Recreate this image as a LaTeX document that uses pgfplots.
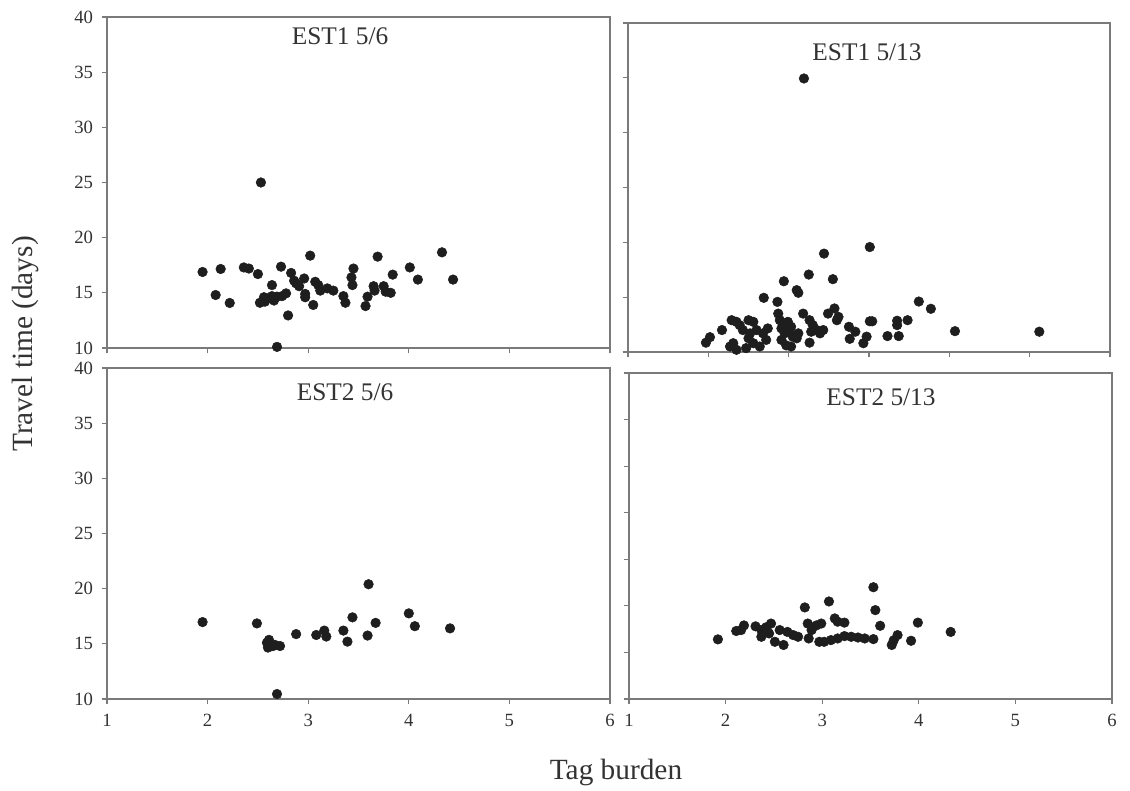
\documentclass[border=0pt]{standalone}
\usepackage{pgfplots}
\pgfplotsset{compat=1.18}
\usepackage{fontspec}
\setmainfont{Liberation Serif}
\definecolor{axgray}{HTML}{7A7A7A}
\definecolor{dotc}{HTML}{1E1E1E}
\definecolor{txt}{HTML}{333333}
\pgfplotsset{
  panel/.style={
    scale only axis,
    axis line style={axgray, line width=1.1pt},
    tick style={axgray, line width=0.9pt},
    tick align=outside,
    major tick length=4pt,
    xtick={1,2,3,4,5,6,7},
    ytick={10,15,20,25,30,35,40,45},
    ymin=10,
    every tick label/.style={font=\fontsize{14}{15}\selectfont, text=txt},
    /pgf/number format/assume math mode=true,
    clip=false,
    xticklabel style={yshift=-4pt},
    yticklabel style={xshift=-3pt},
  },
  boxpanel/.style={panel, axis lines=box, xtick pos=bottom, ytick pos=left},
  dots/.style={only marks, mark=*, mark size=3.6pt, mark options={fill=dotc, draw=dotc}},
}
\begin{document}
\begin{tikzpicture}
\useasboundingbox (0pt,0pt) rectangle (847.5pt,593.25pt);
\fill[white] (0pt,0pt) rectangle (847.5pt,593.25pt);

% Top-left: EST1 5/6
\begin{axis}[boxpanel, at={(80.25pt,332.25pt)}, anchor=south west,
  width=377.25pt, height=248.25pt, xmin=1, xmax=6, ymax=40, xticklabels={}]
\addplot[dots] coordinates {
(2.53,25.0) (3.02,18.37) (3.69,18.28) (4.33,18.67) (1.95,16.89) (2.13,17.16)
(2.36,17.3) (2.41,17.2) (2.50,16.7) (2.73,17.37) (2.83,16.8) (3.45,17.2)
(4.01,17.3) (3.84,16.65) (4.09,16.2) (4.44,16.2) (2.08,14.8) (2.22,14.08)
(2.64,15.7) (2.52,14.1) (2.57,14.2) (2.60,14.5) (2.64,14.7) (2.69,14.65)
(2.74,14.7) (2.78,14.95) (2.56,14.6) (2.66,14.3) (2.80,12.95) (2.69,10.1)
(2.88,15.86) (2.86,16.1) (2.96,16.3) (2.91,15.6) (3.07,16.0) (3.10,15.7)
(3.12,15.2) (3.19,15.4) (3.25,15.2) (2.97,14.9) (2.97,14.6) (3.05,13.9)
(3.43,16.4) (3.44,15.7) (3.35,14.7) (3.37,14.1) (3.59,14.65) (3.57,13.8)
(3.65,15.6) (3.66,15.2) (3.75,15.6) (3.77,15.1) (3.82,15.0)
};
\end{axis}

% Top-right: EST1 5/13
\begin{axis}[boxpanel, at={(471pt,329.25pt)}, anchor=south west,
  width=361.5pt, height=246.75pt, xmin=1, xmax=7, ymax=40,
  xticklabels={}, yticklabels={}]
\addplot[dots] coordinates {
(3.19,34.94) (4.01,19.57) (3.44,18.97) (3.25,17.06) (3.55,16.64) (2.94,16.45)
(3.10,15.64) (3.12,15.4) (2.69,14.94) (2.86,14.57) (4.62,14.6) (4.77,13.94)
(5.07,11.9) (6.12,11.85) (4.23,11.45) (4.37,11.45) (4.35,12.45) (4.35,12.85)
(4.48,12.9) (4.01,12.8) (4.04,12.8) (3.75,12.3) (3.83,11.85) (3.76,11.2)
(3.93,10.8) (3.97,11.4) (3.57,13.97) (3.49,13.5) (3.62,13.2) (3.60,12.9)
(3.18,13.5) (3.26,12.9) (3.30,12.45) (3.35,12.0) (3.39,11.7) (3.43,12.0)
(3.28,11.85) (3.26,10.85)
(2.87,13.5) (2.89,12.9) (2.93,12.6) (2.99,12.75) (3.03,12.3) (2.91,12.15)
(2.95,11.7) (3.01,11.85) (3.05,11.4) (2.91,11.1) (2.97,10.6) (3.03,10.5)
(3.10,11.25) (3.12,11.7)
(2.74,12.15) (2.68,11.7) (2.60,12.0)
(2.29,12.9) (2.35,12.75) (2.39,12.45) (2.50,12.9) (2.56,12.75) (2.43,12.0)
(2.52,11.7) (2.50,11.25) (2.56,10.8) (2.64,10.5) (2.31,10.8) (2.27,10.5)
(2.35,10.2) (2.47,10.35)
(2.17,12.0) (2.02,11.35) (1.97,10.85) (2.72,11.1)
};
\end{axis}

% Bottom-left: EST2 5/6
\begin{axis}[boxpanel, at={(80.25pt,69pt)}, anchor=south west,
  width=377.25pt, height=248.25pt, xmin=1, xmax=6, ymax=40]
\addplot[dots] coordinates {
(1.95,16.97) (2.49,16.85) (3.60,20.4) (4.00,17.76) (3.44,17.4) (3.67,16.9)
(4.06,16.6) (4.41,16.4) (2.88,15.88) (3.08,15.8) (3.16,16.2) (3.18,15.66)
(3.35,16.2) (3.39,15.2) (3.59,15.75) (2.59,15.1) (2.61,15.36) (2.60,14.66)
(2.65,14.8) (2.72,14.8) (2.67,14.9) (2.69,10.45)
};
\end{axis}

% Bottom-right: EST2 5/13
\begin{axis}[boxpanel, at={(471.75pt,69pt)}, anchor=south west,
  width=362.25pt, height=244.5pt, xmin=1, xmax=6, ymax=45, yticklabels={}]
\addplot[dots] coordinates {
(1.92,16.4) (3.53,22.0) (2.82,19.83) (3.07,20.47) (3.55,19.54) (3.60,17.86)
(3.99,18.2) (4.33,17.2) (3.92,16.25) (3.72,15.8) (3.74,16.3) (3.78,16.86)
(3.53,16.43) (3.44,16.5) (3.37,16.6) (3.30,16.68) (3.23,16.75) (3.16,16.5)
(3.09,16.32) (3.02,16.14) (2.97,16.14) (3.13,18.65) (3.16,18.3) (3.23,18.2)
(2.85,18.1) (2.89,17.4) (2.94,17.9) (2.99,18.1) (2.86,16.5) (2.75,16.68)
(2.70,16.86) (2.64,17.2) (2.60,15.8) (2.56,17.4) (2.51,16.14) (2.47,18.1)
(2.42,17.7) (2.37,17.4) (2.31,17.8) (2.37,16.68) (2.45,17.04) (2.19,17.9)
(2.16,17.4) (2.11,17.3)
};
\end{axis}

% Panel titles
\node[text=txt, font=\fontsize{19}{21}\selectfont] at (255pt,566pt) {EST1 5/6};
\node[text=txt, font=\fontsize{19}{21}\selectfont] at (650.25pt,554.25pt) {EST1 5/13};
\node[text=txt, font=\fontsize{19}{21}\selectfont] at (258.75pt,299.25pt) {EST2 5/6};
\node[text=txt, font=\fontsize{19}{21}\selectfont] at (660.75pt,295.5pt) {EST2 5/13};

% Axis labels
\node[text=txt, font=\fontsize{22}{24}\selectfont] at (462pt,14.25pt) {Tag burden};
\node[text=txt, font=\fontsize{22}{24}\selectfont, rotate=90] at (18.75pt,335.25pt) {Travel time (days)};
\end{tikzpicture}
\end{document}
